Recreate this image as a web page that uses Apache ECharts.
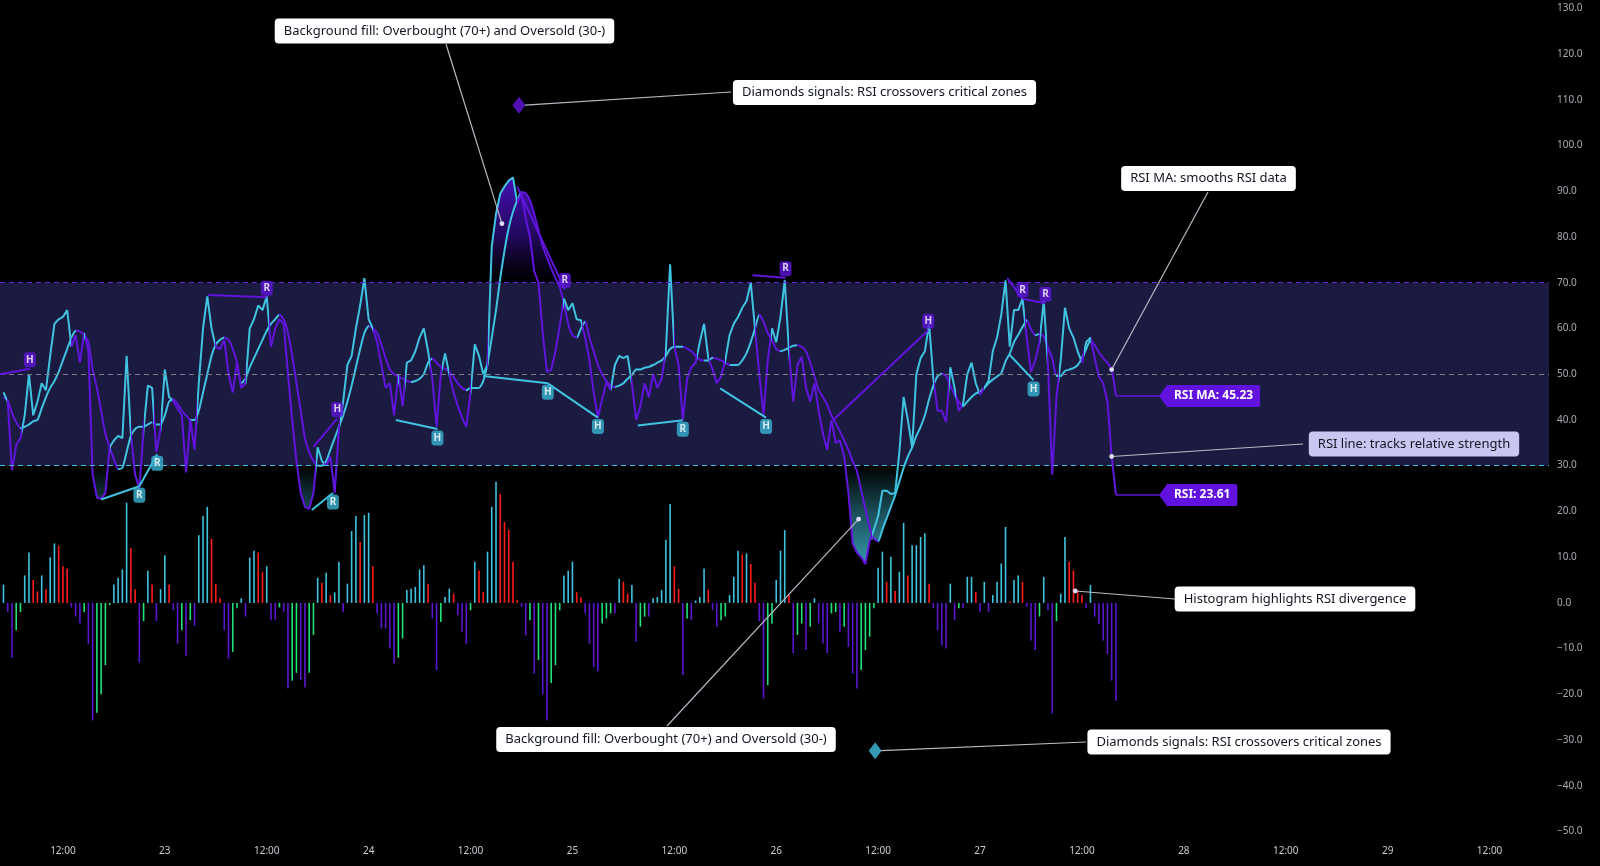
<!DOCTYPE html>
<html><head><meta charset="utf-8">
<script src="https://cdn.jsdelivr.net/npm/echarts@6/dist/echarts.min.js"></script>
<style>html,body{margin:0;padding:0;background:#000;}#c{width:1600px;height:866px;}</style>
</head><body><div id="c"></div>
<script>
// time axis: hours since the 22nd 00:00, one sample every 30 minutes
const START_HOUR = 5;
const STEP_HOURS = 0.5;
const X_MIN = 4.59, X_MAX = 187.0;
const DAY_TICKS = [12,24,36,48,60,72,84,96,108,120,132,144,156,168,180];
const FIRST_DAY = 22;

const RSI = [
46,44,29,34.5,36,41,50,41,44,48,
46.5,54,61,62,62.5,64,56,58.5,52.5,59,
55,28,23,22.8,24,34,35.5,36.5,36,54,
37,28,25,38,47.5,47,33,38,51,45,
44,42.5,41,28.5,40,33.5,48,60,67,60,
56,55.5,57.5,50,46,52.5,47,48,60,62,
65,64,67,56,60,62,61,50,40,31,
24,21,20.5,24,34,31,30,32,24,38,
44,52,54,60,65,71,62,60,57,52,
47,48,41,50,43,52.5,53,55,58,60,
55,49,38.5,50,54.5,50,46,43,40.5,38.5,
46,56.5,54,50,52,78,85,89.5,91,92.3,
93,87.5,89.5,84,80,72.5,70,59,50.5,51,
55,60.5,66.5,64,65.5,62,61.8,58,53,46,
40.5,44.5,48.3,46.5,52,54,53.5,54,48,40,
43,48,45,50,47,49,55,74,56,52,
40,49,51.5,52.5,57,61,53.5,51,48,49.5,
53,58.5,61,62.5,64.5,66,70,60,50,41,
53,60,57,62.5,70.5,55,44,52,53.8,47,
44,48,42,37,33.5,40,35,35.5,32,24,
13,11,10,8.5,13.5,16,19,24.5,24.5,23.8,
24,33,45,40,34,50,53.5,55,61,49,
42,42,39.5,51.5,47,42,43.5,50,52.5,48,
45.5,47,48.5,55,58,63,70.5,56,64,64,
66.5,58,50.5,53,57,66,52,28,45,53,
64.5,60,58,55,52.5,57,58,53.5,49.5,48,
44,32,23.61
];

const RSI_MA = [
45,44.3,41.5,39.5,38.2,38.5,39,39.7,40,42.5,
45,47,48.5,50.5,53,55.5,58,59.5,59.3,58.6,
57,51,47,42,37,34,31.5,29.2,29.5,33,
36.5,38,38.5,38.5,39,39.5,39,39,41,44,
44.5,43.5,42,41,40,40,42,46,50,54,
56.5,57.5,58,57.5,55.5,52.5,48,49,51.5,53.5,
55.5,57.5,59.5,61,62,63,62,59,54,48,
42,36,33,31,30,30,31,33.5,36,38.5,
41,44,47.5,51.5,55.5,59,60.5,60,59,56.5,
53.5,51,50,49.5,49,48.5,48.3,48.5,49,50,
52.5,53.4,52.5,51.6,51.2,50.5,49.4,48,47,46.5,
47,47,47,48.5,52.3,58,64,71,77,82,
85.5,88,89.8,89.5,88,85,81.5,78,75.5,73.2,
71,69,65.5,61,58.5,58,60,61.5,58,55,
52,50,48.5,47.5,47.2,47.5,48,49,49.8,51,
51,51.4,51.6,52,52.5,53,54,55.5,56,56,
56,55.6,55,54,53.2,53,53,53.6,53.4,53,
52.5,52,52,52,53,54.6,57,60,63,61.5,
59,57.5,55.5,55,55.3,55.8,56.2,56.3,56,55,
52.5,49.5,46.5,45,43.3,41,39.3,37.5,35.5,33.5,
31,28.8,24.6,20.5,16.5,14,13.5,16,18.5,21,
23.5,26.5,29.5,32,34,36.5,38.5,41,44.5,47.5,
49.5,50.1,49.6,47.5,45.5,44,43,44,45,45.8,
46.2,47,48,48.8,49.5,50.2,52.8,54.5,57,58.6,
60.3,61.8,59.8,58.5,58.8,58.2,55.8,53.5,49.6,49.6,
50.7,51,51.3,52,53.5,55.5,57.4,56.3,54.8,53.5,
52.5,51,45.23
];

const HIST = [
4,-2,-12,-6,-2,6,11,5,2.5,6,
3,10,13,12.5,8,7.5,-1,-3,-4.5,-2,
-9,-25.7,-24,-20,-13.6,-0.5,4,5.5,7.3,21.9,
12,3,-13,-4,7,4,-4,3,10.4,4,
-1.6,-8.9,-6,-11.6,-3.8,-5,14.8,19,21,14,
4.1,1,-6,-12.2,-10.7,-1.2,1,-3,9.9,11.4,
11,6.8,8,-3.8,-3.8,-1,-2,-18.7,-17,-15.3,
-16.9,-18.5,-15.3,-7,5.5,4.4,6.6,1.7,2.3,9,
-2,4.2,15.7,19,13.3,19.2,19.7,8,-2.3,-5.6,
-5.6,-10,-13.3,-12,-7.8,2.8,3.1,3.5,7.3,8.2,
4.2,-3.4,-14.7,-4.2,1.3,3.1,2,-2.7,-6.3,-8.9,
-1.6,9,7.1,2.4,11.2,21,26.5,23.8,17.7,16,
9,0.6,-0.9,-7.1,-3.8,-15.5,-12.5,-20,-25.7,-17.5,
-13.6,-1.6,6,7,9,2.4,1.2,-2.3,-8.9,-14,
-15,-4.5,-3.4,-2.3,-2.3,5.3,4.6,2,3.9,-8.5,
-5.2,-3,-3,1,1.3,2.8,13.8,21.6,8,3.1,
-15.8,-3.4,-3.8,0.5,1.3,7.5,2.9,-1.6,-5.2,-3.8,
-3,1.7,5.7,11.4,10.6,10.8,8.5,4.4,-4,-20.9,
-18,-4.5,5,11.4,15.9,1.7,-11,-7,-4.5,-10.3,
-5.2,1,-4.5,-8.9,-11,-2.3,-2,-6.3,-5.2,-9.6,
-15.5,-18.7,-14.7,-10.3,-7.4,-1.2,7.7,11.2,4.6,10.1,
2.6,6.8,17.5,6,12.6,12.6,14.4,15.2,4.2,-1.2,
-6,-9.3,-10,4.2,-3.8,-1.2,-1.2,5.7,5.7,2.4,
-2,4.6,-2,1.7,4.6,8.6,16.6,0.3,5,6,
4.6,-0.9,-8.2,-10.3,-3,5.7,-1.6,-24.2,-4,2,
14.4,9,7.1,2.8,1.7,-1.2,3.9,-3,-4.6,-8.2,
-11.2,-17,-21.4
];

// divergences: [h1, v1, h2, v2, letter]
const BEAR_DIV = [
[4.6,50,8.1,51.2,'H'],[29.1,67.3,36.0,66.8,'R'],[41.5,34.1,44.3,40.3,'H'],
[65.5,91,71.1,68.5,'R'],[93.2,71.6,97.1,71.1,'R'],[102.7,40,113.9,59.6,'H'],
[123.2,71,125.0,66.5,'R'],[125.0,66.5,127.7,65.5,'R']
];
const BULL_DIV = [
[16.5,22.6,21.0,25.5,'R'],[21.0,25.5,23.1,32.5,'R'],[41.3,20.3,43.8,24.0,'R'],
[51.2,40.0,56.1,38.0,'H'],[61.5,49.6,69.1,48.0,'H'],[69.1,48.0,75.0,40.5,'H'],
[79.7,38.8,85.0,39.9,'R'],[89.4,46.9,94.8,40.5,'H'],[123.5,54.2,126.3,48.7,'H']
];
const DIAMONDS_UP = [[65.7,108.8]];
const DIAMONDS_DOWN = [[107.65,-32.3]];
const OB = 70, MID = 50, OS = 30;

const C_CYAN = '#3fc3e0', C_PURP = '#6014dc', C_RED = '#ff1a1a', C_GREEN = '#1fe37a', C_HPURP = '#5a16cf';

const H = RSI.map((_, i) => START_HOUR + i * STEP_HOURS);
const pts = a => a.map((v, i) => [H[i], v]);
const obFill = RSI.map((r, i) => [H[i], Math.max(OB, r, RSI_MA[i])]);
const osFill = RSI.map((r, i) => [H[i], Math.min(OS, r, RSI_MA[i])]);

function crossPieces(a, b, upC, dnC) {
  const p = []; let s = X_MIN - 1, up = a[0] >= b[0];
  for (let i = 0; i < a.length - 1; i++) {
    const d0 = a[i] - b[i], d1 = a[i+1] - b[i+1], u = d1 >= 0;
    if (u !== up) { const xc = H[i] + d0 / (d0 - d1) * STEP_HOURS; p.push({gte: s, lt: xc, color: up ? upC : dnC}); s = xc; up = u; }
  }
  p.push({gte: s, lte: X_MAX + 1, color: up ? upC : dnC}); return p;
}
function slopePieces(a, upC, dnC) {
  const p = []; let s = X_MIN - 1, up = a[1] >= a[0];
  for (let i = 1; i < a.length - 1; i++) {
    const u = a[i+1] >= a[i];
    if (u !== up) { p.push({gte: s, lt: H[i], color: up ? upC : dnC}); s = H[i]; up = u; }
  }
  p.push({gte: s, lte: X_MAX + 1, color: up ? upC : dnC}); return p;
}
function histColor(p) {
  const i = p.dataIndex, v = HIST[i], pv = i > 0 ? HIST[i-1] : 0;
  if (v >= 0) return v >= pv ? C_CYAN : C_RED;
  return v <= pv ? C_HPURP : C_GREEN;
}
const divLines = d => d.map(r => [{coord: [r[0], r[1]]}, {coord: [r[2], r[3]]}]);
const divLabels = d => d.map(r => ({name: r[4], value: [r[2], r[3]]}));

const chart = echarts.init(document.getElementById('c'));
const option = {
  backgroundColor: '#000',
  animation: false,
  grid: {left: 0, right: 51, top: 8.2, bottom: 34.4, containLabel: false, outerBoundsMode: 'none'},
  xAxis: {
    type: 'value', min: X_MIN, max: X_MAX,
    axisLine: {show: false}, axisTick: {show: false}, splitLine: {show: false},
    axisLabel: {customValues: DAY_TICKS, color: '#c9cbd2', fontSize: 10, fontFamily: 'Noto Sans', margin: 15,
      formatter: v => (Math.round(v) % 24 === 12) ? '12:00' : String(FIRST_DAY + Math.round(v) / 24)}
  },
  yAxis: {
    type: 'value', position: 'right', min: -50, max: 130, interval: 10,
    axisLine: {show: false}, axisTick: {show: false}, splitLine: {show: false},
    axisLabel: {color: '#a9abb3', fontSize: 10, fontFamily: 'Noto Sans', margin: 8, showMinLabel: true, showMaxLabel: true,
      formatter: v => (v < 0 ? '\u2212' + Math.abs(v).toFixed(1) : v.toFixed(1))}
  },
  visualMap: [
    {type: 'piecewise', show: false, dimension: 0, seriesIndex: 4, pieces: crossPieces(RSI, RSI_MA, C_CYAN, C_PURP)},
    {type: 'piecewise', show: false, dimension: 0, seriesIndex: 3, pieces: slopePieces(RSI_MA, C_CYAN, C_PURP)}
  ],
  series: [
    {type: 'line', name: 'ob', data: obFill, z: 1, showSymbol: false, silent: true,
     lineStyle: {width: 0}, areaStyle: {origin: OB, opacity: 1, color: 'rgba(80,20,190,0.6)'},
     markArea: {silent: true, itemStyle: {color: '#1b1a40'}, data: [[{yAxis: OS}, {yAxis: OB}]]},
     markLine: {silent: true, symbol: ['none','none'], label: {show: false},
       data: [
        {yAxis: OB, lineStyle: {color: '#6a1fe6', type: [5,4], width: 1}},
        {yAxis: MID, lineStyle: {color: '#7a7c85', type: [5,4], width: 1}},
        {yAxis: OS, lineStyle: {color: '#40c2e0', type: [5,4], width: 1}}
       ]}},
    {type: 'line', name: 'os', data: osFill, z: 1, showSymbol: false, silent: true,
     lineStyle: {width: 0}, areaStyle: {origin: OS, opacity: 1, color: 'rgba(60,170,190,0.6)'}},
    {type: 'bar', name: 'hist', data: pts(HIST), barWidth: 1.6, z: 2, silent: true,
     itemStyle: {color: histColor}},
    {type: 'line', name: 'RSI MA', data: pts(RSI_MA), z: 3, showSymbol: false, smooth: 0.2, lineStyle: {width: 2}},
    {type: 'line', name: 'RSI', data: pts(RSI), z: 4, showSymbol: false, lineStyle: {width: 2}},
    {type: 'line', name: 'bearDiv', data: [], z: 5,
     markLine: {silent: true, symbol: ['none','none'], label: {show: false}, lineStyle: {color: C_PURP, width: 2, type: 'solid'}, data: divLines(BEAR_DIV)}},
    {type: 'line', name: 'bullDiv', data: [], z: 5,
     markLine: {silent: true, symbol: ['none','none'], label: {show: false}, lineStyle: {color: C_CYAN, width: 2, type: 'solid'}, data: divLines(BULL_DIV)}},
    {type: 'scatter', name: 'bearLbl', data: divLabels(BEAR_DIV), z: 6, symbol: 'roundRect', symbolSize: [12,15], symbolOffset: [0,-9],
     itemStyle: {color: '#5d14d8'}, label: {show: true, position: 'inside', formatter: '{b}', color: '#fff', fontSize: 10, fontWeight: 'bold', fontFamily: 'Noto Sans'}},
    {type: 'scatter', name: 'bullLbl', data: divLabels(BULL_DIV), z: 6, symbol: 'roundRect', symbolSize: [12,15], symbolOffset: [0,9],
     itemStyle: {color: '#38b4d2'}, label: {show: true, position: 'inside', formatter: '{b}', color: '#fff', fontSize: 10, fontWeight: 'bold', fontFamily: 'Noto Sans'}},
    {type: 'scatter', name: 'dUp', data: DIAMONDS_UP, z: 6, symbol: 'diamond', symbolSize: [13,17], itemStyle: {color: '#6316dc'}},
    {type: 'scatter', name: 'dDn', data: DIAMONDS_DOWN, z: 6, symbol: 'diamond', symbolSize: [13,17], itemStyle: {color: '#3fc1df'}}
  ]
};
chart.setOption(option);

const px = (h, v) => chart.convertToPixel({gridIndex: 0}, [h, v]);
const yTop = px(10, 93)[1], y70 = px(10, OB)[1], y30 = px(10, OS)[1], yBot = px(10, 9)[1];
const obGrad = {type: 'linear', x: 0, y: yTop, x2: 0, y2: y70, global: true, colorStops: [
  {offset: 0, color: 'rgba(70,16,185,1)'}, {offset: 0.55, color: 'rgba(50,12,135,0.7)'}, {offset: 1, color: 'rgba(30,8,90,0)'}]};
const osGrad = {type: 'linear', x: 0, y: y30, x2: 0, y2: yBot, global: true, colorStops: [
  {offset: 0, color: 'rgba(50,145,165,0)'}, {offset: 0.5, color: 'rgba(50,145,165,0.55)'}, {offset: 1, color: 'rgba(52,150,170,1)'}]};

const last = RSI.length - 1;
// callouts: text, box centre (px), leader start (px), anchor in data coords
const NOTES = [
  {t: 'Background fill: Overbought (70+) and Oversold (30-)', c: [444.5, 31], s: [446, 44], a: [63.7, 82.9]},
  {t: 'Diamonds signals: RSI crossovers critical zones', c: [884.5, 92.5], s: [731, 92], a: DIAMONDS_UP[0], dx: 6},
  {t: 'RSI MA: smooths RSI data', c: [1208.5, 178.5], s: [1208, 192], a: [H[last-1], RSI_MA[last-1]]},
  {t: 'RSI line: tracks relative strength', c: [1414, 444], s: [1303, 444], a: [H[last-1], RSI[last-1]], lav: true},
  {t: 'Histogram highlights RSI divergence', c: [1295, 599], s: [1175, 599], a: [131.2, 2.6]},
  {t: 'Background fill: Overbought (70+) and Oversold (30-)', c: [666, 739.5], s: [667, 726], a: [105.7, 18.3]},
  {t: 'Diamonds signals: RSI crossovers critical zones', c: [1239, 742], s: [1086, 742], a: DIAMONDS_DOWN[0], dx: 6}
];
const g = [];
NOTES.forEach(n => {
  const p = px(n.a[0], n.a[1]);
  const ex = p[0] + (n.dx || 0), ey = p[1];
  g.push({type: 'line', z: 100, shape: {x1: n.s[0], y1: n.s[1], x2: ex, y2: ey}, style: {stroke: '#b9b9c6', lineWidth: 1.2}});
  if (!n.dx) g.push({type: 'circle', z: 101, shape: {cx: ex, cy: ey, r: 2.4}, style: {fill: '#dcdcf2'}});
  g.push({type: 'text', z: 102, x: n.c[0], y: n.c[1], style: {text: n.t, fill: '#131722', font: '13px "Noto Sans"',
    align: 'center', verticalAlign: 'middle', backgroundColor: n.lav ? '#c9c7f1' : '#ffffff', padding: [6, 9], borderRadius: 4}});
});
function flag(v, txt) {
  const p = px(H[last], v);
  const tip = p[0] + 43, y = p[1];
  g.push({type: 'line', z: 100, shape: {x1: p[0], y1: y, x2: tip, y2: y}, style: {stroke: C_PURP, lineWidth: 1.5}});
  g.push({type: 'polygon', z: 101, shape: {points: [[tip, y], [tip + 9, y - 12], [tip + 9, y + 12]]}, style: {fill: '#6112df'}});
  g.push({type: 'text', z: 102, x: tip + 8, y: y, style: {text: txt, fill: '#fff', font: 'bold 12px "Noto Sans"',
    align: 'left', verticalAlign: 'middle', backgroundColor: '#6112df', padding: [5, 7], borderRadius: 2}});
}
flag(RSI_MA[last], 'RSI MA: ' + RSI_MA[last].toFixed(2));
flag(RSI[last], 'RSI: ' + RSI[last].toFixed(2));

chart.setOption({
  series: [{name: 'ob', areaStyle: {origin: OB, opacity: 1, color: obGrad}}, {name: 'os', areaStyle: {origin: OS, opacity: 1, color: osGrad}}],
  graphic: g
});
</script></body></html>
